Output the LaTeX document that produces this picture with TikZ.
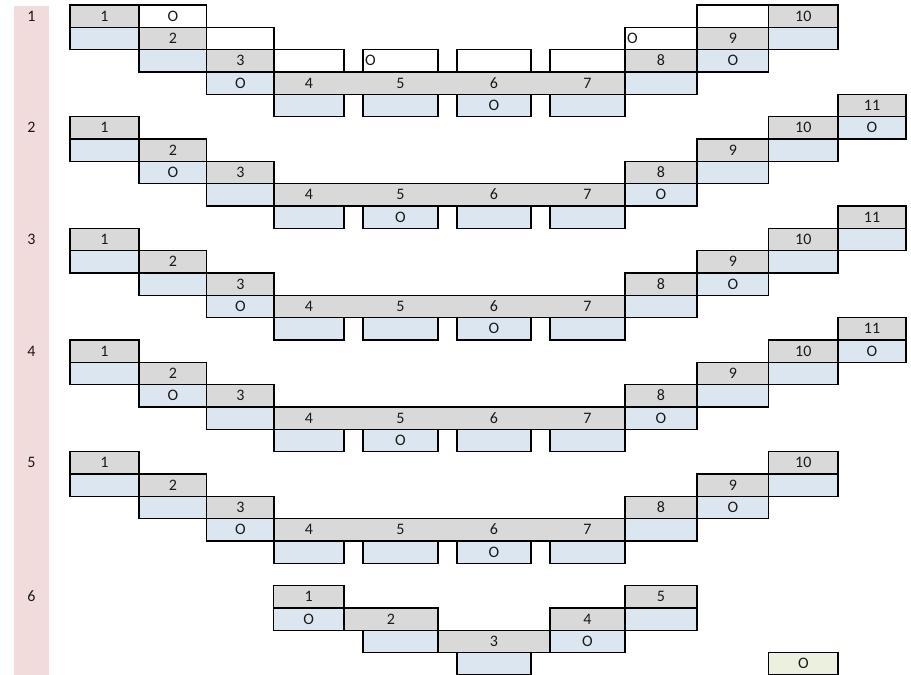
\documentclass[tikz,border=0pt]{standalone}
\usepackage{fontspec}
\setmainfont{Carlito}

\definecolor{hdgrey}{HTML}{D9D9D9}
\definecolor{cellblue}{HTML}{DCE6F1}
\definecolor{cellgreen}{HTML}{EBF1DE}
\definecolor{rowpink}{HTML}{F2DCDB}
\definecolor{ink}{HTML}{1A1A1A}

% left and right edges of the columns (px)
\def\colA{{70,139,206.7,274,363,457,550,625,697,768.7,838}}
\def\colB{{139,206.7,274,344,438,531,625,697,768.7,838,906}}

\tikzset{
    cell/.style={draw=black, line width=0.9pt, inner sep=0pt, minimum height=16.75pt,
                 text=ink, text height=7.6pt, text depth=0pt, font=\fontsize{12}{14}\selectfont},
    greycell/.style={cell, fill=hdgrey},
    bluecell/.style={cell, fill=cellblue},
    whitecell/.style={cell, fill=white},
    greencell/.style={cell, fill=cellgreen},
    leftO/.style={whitecell, text width=\cellTw pt, align=left, inner xsep=1.5pt},
    celltext/.style={inner sep=0pt, text=ink, text height=7.6pt, text depth=0pt, font=\fontsize{12}{14}\selectfont},
    rowlab/.style={celltext}
}

% cell from x=#3 to x=#4 on row #5
\newcommand{\cellx}[6]{%
    \pgfmathsetmacro{\cellW}{(#4-(#3))*0.75}
    \pgfmathsetmacro{\cellTw}{\cellW-3}
    \node[#1, minimum width=\cellW pt] (#2) at ({(#3+#4)/2}, {5+(#5+0.5)*22.33}) {#6};
}
% cell in column #3 on row #4
\newcommand{\cell}[5]{%
    \pgfmathsetmacro{\cellL}{\colA[#3]}
    \pgfmathsetmacro{\cellR}{\colB[#3]}
    \cellx{#1}{#2}{\cellL}{\cellR}{#4}{#5}
}

\begin{document}
\begin{tikzpicture}[x=0.75pt, y=-0.75pt]
    \useasboundingbox (0,0) rectangle (911,675);

    \fill[rowpink] (14,5.7) rectangle (49,675);

    % white cells of the first block
    \foreach \c/\rr/\t/\s in {1/0/O/whitecell, 2/1//whitecell, 3/2//whitecell, 4/2/O/leftO,
                              5/2//whitecell, 6/2//whitecell, 7/1/O/leftO, 8/0//whitecell}{
        \cell{\s}{w\c}{\c}{\rr}{\t}
    }

    \foreach \b/\r/\m/\top in {1/0/0/10, 2/5/2/11, 3/10/0/11, 4/15/2/11, 5/20/0/10}{
        \node[rowlab] (blk\b) at (31.5, {5+(\r+0.5)*22.33}) {\b};

        % steps on both sides
        \foreach \k/\c/\dr in {1/0/0, 2/1/1, 3/2/2, 8/7/2, 9/8/1, 10/9/0, 11/10/-1}{
            \ifnum\k>\top\else
                \pgfmathtruncatemacro{\gr}{\r+\dr}
                \pgfmathtruncatemacro{\hasO}{mod(\k,3)==\m}
                \cell{greycell}{g\b-\k}{\c}{\gr}{\k}
                \cell{bluecell}{o\b-\k}{\c}{\gr+1}{\ifnum\hasO=1 O\fi}
            \fi
        }

        % bottom band
        \cellx{greycell}{band\b}{274}{625}{\r+3}{}
        \foreach \k/\c in {4/3, 5/4, 6/5, 7/6}{
            \pgfmathtruncatemacro{\hasO}{mod(\k,3)==\m}
            \pgfmathsetmacro{\cxa}{\colA[\c]}
            \pgfmathsetmacro{\cxb}{\colB[\c]}
            \node[celltext] (t\b-\k) at ({(\cxa+\cxb)/2}, {5+(\r+3.5)*22.33}) {\k};
            \cell{bluecell}{o\b-\k}{\c}{\r+4}{\ifnum\hasO=1 O\fi}
        }
    }

    % last block
    \node[rowlab] (blk6) at (31.5, {5+26.5*22.33}) {6};
    \cellx{greycell}{g6-1}{273.3}{344}{26}{1}
    \cellx{bluecell}{o6-1}{273.3}{344}{27}{O}
    \cellx{greycell}{g6-2}{344}{438}{27}{2}
    \cellx{bluecell}{o6-2}{363}{438}{28}{}
    \cellx{greycell}{g6-3}{438}{550}{28}{3}
    \cellx{bluecell}{o6-3}{457}{531}{29}{}
    \cellx{greycell}{g6-4}{550}{625}{27}{4}
    \cellx{bluecell}{o6-4}{550}{625}{28}{O}
    \cellx{greycell}{g6-5}{625}{697}{26}{5}
    \cellx{bluecell}{o6-5}{625}{697}{27}{}

    \cell{greencell}{odd}{9}{29}{O}
\end{tikzpicture}
\end{document}
